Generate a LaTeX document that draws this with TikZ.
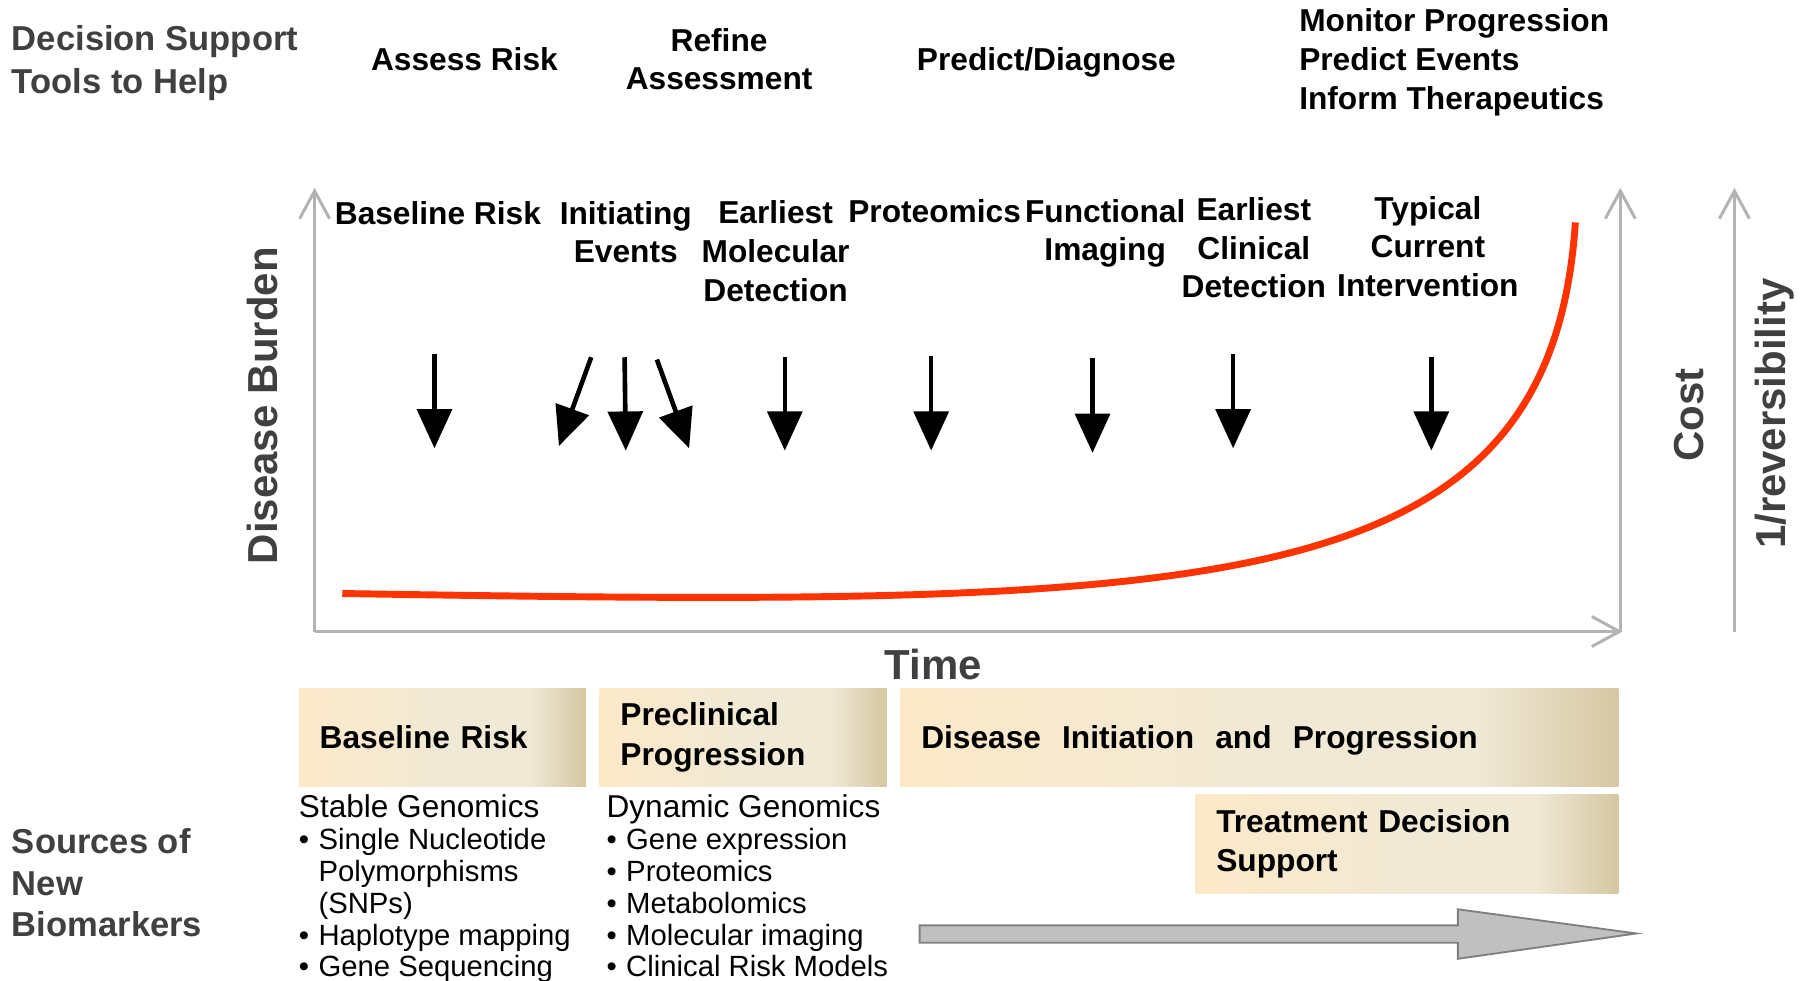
\documentclass[tikz,border=0pt]{standalone}
\usepackage{fontspec}
\setmainfont{Liberation Sans}
\usetikzlibrary{arrows.meta}

\definecolor{axisgray}{HTML}{B3B3B3}
\definecolor{labelgray}{HTML}{404040}
\definecolor{curvered}{HTML}{FF3300}
\definecolor{beigeA}{HTML}{FCE9C8}
\definecolor{beigeM}{HTML}{F0E9D6}
\definecolor{beigeB}{HTML}{D5C7A2}
\definecolor{bigfill}{HTML}{C0C0C0}
\definecolor{bigline}{HTML}{7F7F7F}

\pgfdeclarehorizontalshading{beige}{100bp}{color(0bp)=(beigeA); color(25bp)=(beigeA);
  color(52bp)=(beigeM); color(65bp)=(beigeM); color(75bp)=(beigeB); color(100bp)=(beigeB)}

\tikzset{
  helplabel/.style={font=\fontsize{15pt}{18.5pt}\selectfont\bfseries, text=labelgray, align=left, inner sep=0pt},
  toollabel/.style={font=\fontsize{13.75pt}{16.75pt}\selectfont\bfseries, align=center, inner sep=0pt},
  axislabel/.style={font=\fontsize{18.2pt}{20pt}\selectfont\bfseries, text=labelgray, inner sep=0pt},
  axisline/.style={axisgray, line width=1.3pt, -{Straight Barb[length=12pt,width=13pt]}},
  marker/.style={line width=2pt, -{Triangle[length=17pt,width=15pt]}},
  phase/.style={shading=beige, anchor=north west, inner xsep=9pt, inner ysep=0pt,
    minimum height=42.5pt, text width=#1, align=left,
    font=\fontsize{13.75pt}{17pt}\selectfont\bfseries},
  sourcelist/.style={anchor=north west, inner sep=0pt, align=left,
    font=\fontsize{12.7pt}{13.85pt}\selectfont},
}

\newcommand{\bulletitem}{\makebox[8.5pt][l]{\textbullet}}

\begin{document}
\begin{tikzpicture}[x=0.5pt, y=-0.5pt]

  \useasboundingbox (0,0) rectangle (1568,851);

  % tools row
  \node[helplabel, anchor=west] (help) at (10,54.5) {Decision Support\\Tools to Help};
  \node[toollabel] (assess) at (403,51) {Assess Risk};
  \node[toollabel] (refine) at (624,51.5) {Refine\\Assessment};
  \node[toollabel] (predict) at (908,54) {Predict/Diagnose};
  \node[toollabel, anchor=west, align=left] (monitor) at (1127,54)
    {Monitor Progression\\Predict Events\\Inform Therapeutics};

  % axes
  \coordinate (origin) at (273,548);
  \draw[axisline] (origin) -- (273,163);
  \draw[axisline] (origin) -- (1408,548);
  \draw[axisline] (1406,548) -- (1406,163);
  \draw[axisline] (1505,548) -- (1505,163);

  \node[axislabel, rotate=90] (burden) at (228,352) {Disease Burden};
  \node[axislabel] (time) at (810,577) {Time};
  \node[axislabel, rotate=90] (cost) at (1466,360) {Cost};
  \node[axislabel, rotate=90] (reversibility) at (1540,359) {1/reversibility};

  % stages along the curve
  \node[toollabel] (baseline) at (380,185) {Baseline Risk};
  \node[toollabel] (initiating) at (543,201.5) {Initiating\\Events};
  \node[toollabel] (molecular) at (673,218) {Earliest\\Molecular\\Detection};
  \node[toollabel] (proteomics) at (811,183) {Proteomics};
  \node[toollabel] (functional) at (959,202.5) {Functional\\Imaging};
  \node[toollabel] (clinical) at (1088,215) {Earliest\\Clinical\\Detection};
  \node[toollabel] (typical) at (1239,214) {Typical\\Current\\Intervention};

  \coordinate (a1s) at (377,307);  \coordinate (a1e) at (377,389);
  \coordinate (a2s) at (513,310);  \coordinate (a2e) at (485,387);
  \coordinate (a3s) at (542,310);  \coordinate (a3e) at (543,391);
  \coordinate (a4s) at (570,312);  \coordinate (a4e) at (598,389);
  \coordinate (a5s) at (681,310);  \coordinate (a5e) at (681,391);
  \coordinate (a6s) at (808,309);  \coordinate (a6e) at (808,391);
  \coordinate (a7s) at (948,311);  \coordinate (a7e) at (948,393);
  \coordinate (a8s) at (1070,307); \coordinate (a8e) at (1070,389);
  \coordinate (a9s) at (1242,310); \coordinate (a9e) at (1242,391);
  \foreach \i in {1,...,9}
    \draw[marker] (a\i s) -- (a\i e);

  % disease burden curve
  \coordinate (curvestart) at (297,515);
  \coordinate (curveend) at (1367,193);
  \draw[curvered, line width=3pt] (curvestart) .. controls (1050,527) and (1345,525) .. (curveend);

  % phases
  \node[phase=106.5pt] (basebox) at (259,597) {Baseline Risk};
  \node[phase=106.5pt] (preclinbox) at (520,597) {Preclinical\\Progression};
  \node[phase=293.5pt, text depth=0pt] (diseasebox) at (781,597) {Disease~~Initiation~~and~~Progression};
  \node[phase=165.5pt, minimum height=43pt] (treatbox) at (1037,689) {Treatment Decision\\Support};

  % biomarkers
  \node[helplabel, anchor=west, align=left, font=\fontsize{15pt}{18pt}\selectfont\bfseries]
    (sources) at (10,766) {Sources of\\New\\Biomarkers};
  \node[sourcelist] (stable) at (259,689) {{\fontsize{13.7pt}{14pt}\selectfont Stable Genomics}\\
    \bulletitem Single Nucleotide\\
    \hspace*{8.5pt}Polymorphisms\\
    \hspace*{8.5pt}(SNPs)\\
    \bulletitem Haplotype mapping\\
    \bulletitem Gene Sequencing};
  \node[sourcelist] (dynamic) at (526,689) {{\fontsize{13.7pt}{14pt}\selectfont Dynamic Genomics}\\
    \bulletitem Gene expression\\
    \bulletitem Proteomics\\
    \bulletitem Metabolomics\\
    \bulletitem Molecular imaging\\
    \bulletitem Clinical Risk Models};

  % time arrow
  \draw[bigline, fill=bigfill, line width=0.8pt] (798,803) -- (1265,803) -- (1265,789)
    -- (1420,810) -- (1265,832) -- (1265,818) -- (798,818) -- cycle;

\end{tikzpicture}
\end{document}
